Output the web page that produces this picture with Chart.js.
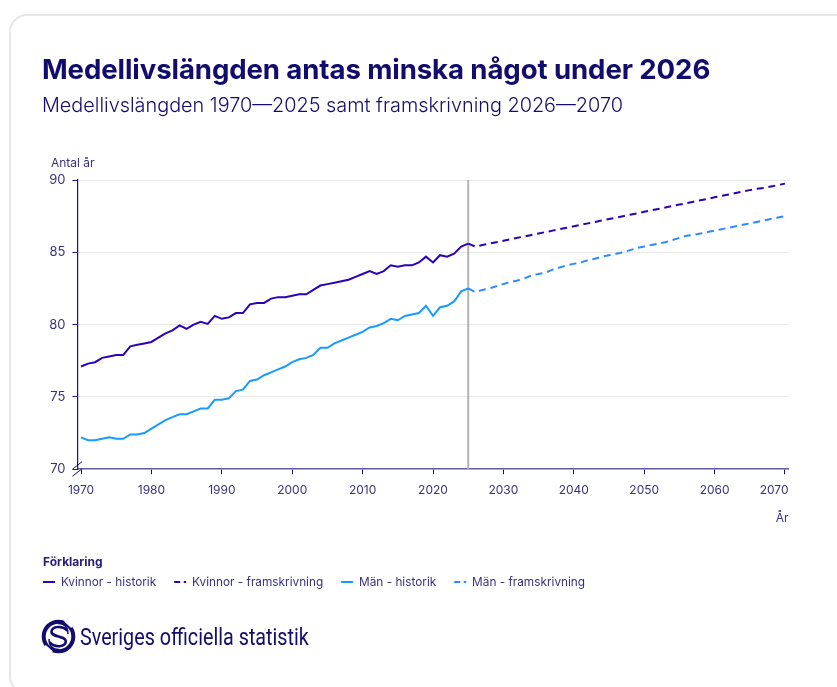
<!DOCTYPE html>
<html lang="sv">
<head>
<meta charset="utf-8">
<style>
html,body{margin:0;padding:0;background:#fff;width:837px;height:687px;overflow:hidden;font-family:Inter,sans-serif;color:#120c6e}
#card{position:absolute;left:9px;top:14px;width:900px;height:680px;border:2.5px solid #e6e6e6;border-radius:18px;box-sizing:border-box}
#wrap{position:absolute;left:0;top:0;width:837px;height:687px}
h1{position:absolute;left:42px;top:51px;margin:0;font-size:27.6px;line-height:36px;font-weight:700;white-space:nowrap;letter-spacing:-.1px}
h2{position:absolute;left:42px;top:92px;margin:0;font-size:19.85px;line-height:26px;font-weight:300;white-space:nowrap}
.yt{position:absolute;left:51px;top:155px;font-size:12px;line-height:15px;color:#37327f}
.lg{position:absolute;left:43px;top:554px;font-size:12px;line-height:15px;font-weight:700;color:#241e78}
#logo{position:absolute;left:41px;top:619px}
.sos{position:absolute;left:80px;top:622px;font-family:Roboto,sans-serif;font-size:23.5px;line-height:30px;color:#120c6e;white-space:nowrap;transform-origin:left center;transform:scaleX(.84)}
</style>
</head>
<body>
<div id="card"></div>
<div id="wrap"><canvas id="c" width="837" height="687"></canvas></div>
<h1>Medellivslängden antas minska något under 2026</h1>
<h2>Medellivslängden 1970—2025 samt framskrivning 2026—2070</h2>
<div class="yt">Antal år</div>
<div class="lg">Förklaring</div>
<svg id="logo" width="35" height="35" viewBox="0 0 35 35">
  <circle cx="17.5" cy="17.5" r="14.8" fill="none" stroke="#120c6e" stroke-width="4"/>
  <path fill="none" stroke="#fff" stroke-width="2.5" d="M24 1.5L31 8M11 33.5L4 27"/>
  <path fill="none" stroke="#120c6e" stroke-width="2.6" stroke-linecap="round" d="M25.5 11C22 6.5 11 7 10.5 12.5C10 18.5 25 16.5 24.8 22.5C24.5 28 14 29 9.5 24"/>
  <path fill="none" stroke="#120c6e" stroke-width="1.4" d="M27 15C27 9 24 4.5 17 4.5M8 20C8 26 11 30.5 18 30.5"/>
</svg>
<div class="sos">Sveriges officiella statistik</div>
<script src="https://cdn.jsdelivr.net/npm/chart.js@4"></script>
<script>
const years = [];
for (let y = 1970; y <= 2070; y++) years.push(String(y));
const yTicks = [70, 75, 80, 85, 90];

const womenHistoric = [77.1,77.3,77.4,77.7,77.8,77.9,77.9,78.5,78.6,78.7,78.8,79.1,79.4,79.6,79.95,79.7,80.0,80.2,80.05,80.6,80.4,80.5,80.8,80.8,81.4,81.5,81.5,81.8,81.9,81.9,82.0,82.1,82.1,82.4,82.7,82.8,82.9,83.0,83.1,83.3,83.5,83.7,83.5,83.7,84.1,84.0,84.1,84.1,84.3,84.7,84.3,84.8,84.7,84.9,85.4,85.6];
const womenForecast = [85.6,85.4,85.5,85.6,85.7,85.8,85.9,86.0,86.1,86.2,86.3,86.4,86.5,86.6,86.7,86.8,86.9,87.0,87.1,87.2,87.3,87.4,87.5,87.6,87.7,87.8,87.9,88.0,88.1,88.2,88.3,88.4,88.5,88.6,88.7,88.8,88.9,89.0,89.1,89.2,89.3,89.4,89.45,89.55,89.65,89.75];
const menHistoric = [72.2,72.0,72.0,72.1,72.2,72.1,72.1,72.4,72.4,72.5,72.8,73.1,73.4,73.6,73.8,73.8,74.0,74.2,74.2,74.8,74.8,74.9,75.4,75.5,76.1,76.2,76.5,76.7,76.9,77.1,77.4,77.6,77.7,77.9,78.4,78.4,78.7,78.9,79.1,79.3,79.5,79.8,79.9,80.1,80.4,80.3,80.6,80.7,80.8,81.3,80.6,81.2,81.3,81.6,82.3,82.5];
const menForecast = [82.5,82.25,82.4,82.5,82.65,82.8,82.95,83.05,83.2,83.4,83.5,83.6,83.8,83.95,84.1,84.2,84.3,84.45,84.55,84.7,84.8,84.9,85.0,85.15,85.3,85.4,85.5,85.6,85.7,85.85,86.0,86.15,86.2,86.3,86.4,86.5,86.6,86.7,86.8,86.9,87.0,87.1,87.2,87.3,87.4,87.5];
const lastHistoricYear = "2025";

function pad(series, startYear) {
  const out = new Array(years.length).fill(null);
  const start = years.indexOf(startYear);
  series.forEach((v, i) => { out[start + i] = v; });
  return out;
}

const PURPLE = '#2e00b8', BLUE = '#189bff', BLUE2 = '#2b8cff';
const TXT = '#37327f';
const DASH = [7, 4.8];

const decorations = {
  id: 'decorations',
  beforeDraw(chart) {
    const xs = chart.scales.x;
    const items = xs.getLabelItems();
    const last = items[items.length - 1];
    last.options.textAlign = 'right';
    last.options.translation = [xs.right, last.options.translation[1]];
  },
  beforeDatasetsDraw(chart) {
    const {ctx, chartArea: a, scales: {x}} = chart;
    const px = x.getPixelForValue(years.indexOf(lastHistoricYear));
    ctx.save();
    ctx.strokeStyle = '#b4b4b4';
    ctx.lineWidth = 2;
    ctx.beginPath();
    ctx.moveTo(px, a.top);
    ctx.lineTo(px, a.bottom);
    ctx.stroke();
    ctx.restore();
  },
  afterDraw(chart) {
    const {ctx, chartArea: a} = chart;
    ctx.save();
    ctx.strokeStyle = '#120c6e';
    ctx.lineWidth = 1;
    [0, 7].forEach(d => {
      ctx.beginPath();
      ctx.moveTo(a.left - 5, a.bottom + d);
      ctx.lineTo(a.left + 4.5, a.bottom + d - 7.5);
      ctx.stroke();
    });
    ctx.restore();
  }
};

new Chart(document.getElementById('c'), {
  type: 'line',
  data: {
    labels: years,
    datasets: [
      {label: 'Kvinnor - historik', data: pad(womenHistoric, '1970'), borderColor: PURPLE, backgroundColor: PURPLE},
      {label: 'Kvinnor - framskrivning', data: pad(womenForecast, '2025'), borderColor: PURPLE, backgroundColor: PURPLE, borderDash: DASH},
      {label: 'Män - historik', data: pad(menHistoric, '1970'), borderColor: BLUE, backgroundColor: BLUE},
      {label: 'Män - framskrivning', data: pad(menForecast, '2025'), borderColor: BLUE2, backgroundColor: BLUE2, borderDash: DASH}
    ]
  },
  plugins: [decorations],
  options: {
    responsive: false,
    animation: false,
    devicePixelRatio: 1,
    elements: {point: {radius: 0}, line: {borderWidth: 2, tension: 0}},
    layout: {padding: {left: 25, right: 48.5, top: 180, bottom: 89}},
    plugins: {
      tooltip: {enabled: false},
      title: {display: false},
      legend: {
        position: 'bottom',
        align: 'start',
        labels: {
          color: TXT,
          font: {family: 'Inter', size: 11.8},
          usePointStyle: true,
          pointStyleWidth: 12,
          boxHeight: 8,
          padding: 18,
          generateLabels(chart) {
            return Chart.defaults.plugins.legend.labels.generateLabels(chart).map(l => {
              l.pointStyle = 'line';
              l.rotation = 180;
              l.lineWidth = 2;
              l.lineDash = chart.data.datasets[l.datasetIndex].borderDash ? [6, 3.5] : [];
              return l;
            });
          }
        }
      }
    },
    scales: {
      x: {
        type: 'category',
        offset: true,
        afterBuildTicks(s) { s.ticks = s.ticks.filter(t => Number(years[t.value]) % 10 === 0); },
        afterFit(s) { s.height = 89; },
        border: {color: '#5f5b9e', width: 1.5},
        grid: {drawOnChartArea: false, tickColor: '#120c6e', tickLength: 5},
        ticks: {autoSkip: false, maxRotation: 0, color: TXT, font: {family: 'Inter', size: 12}, padding: 9},
        title: {display: true, text: 'År', align: 'end', color: TXT, font: {family: 'Inter', size: 12}, padding: {top: 12, bottom: 33}}
      },
      y: {
        min: 70,
        max: 90,
        afterFit(s) { s.width = 52.5; },
        afterBuildTicks(s) { s.ticks = yTicks.map(v => ({value: v})); },
        border: {color: '#1b0f8c', width: 1.2},
        grid: {
          color: c => c.tick && c.tick.value === 70 ? 'rgba(0,0,0,0)' : '#e8e8e8',
          tickColor: '#1b0f8c',
          tickLength: 5
        },
        ticks: {color: TXT, font: {family: 'Inter', size: 13}, padding: 7}
      }
    }
  }
});
</script>
</body>
</html>
